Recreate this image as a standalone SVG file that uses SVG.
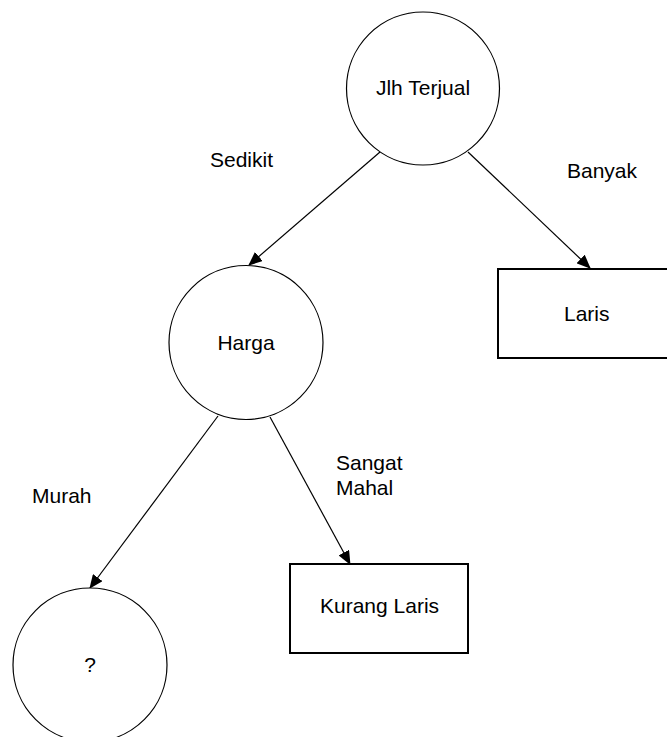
<svg xmlns="http://www.w3.org/2000/svg" width="667" height="737" viewBox="0 0 667 737">
<style>
.c{fill:#fff;stroke:#000;stroke-width:1.2}
.r{fill:#fff;stroke:#000;stroke-width:2}
.t{font-family:"Liberation Sans",Arial,sans-serif;font-size:21px;fill:#000}
.m{text-anchor:middle}
.e{stroke:#000;stroke-width:1.2;fill:none;marker-end:url(#ah)}
</style>
<defs>
<marker id="ah" markerWidth="14" markerHeight="12" refX="13" refY="6" orient="auto" markerUnits="userSpaceOnUse">
<path d="M0,0 L14,6 L0,12 Z" fill="#000"/>
</marker>
</defs>
<rect width="667" height="737" fill="#fff"/>
<g id="connectors">
<line class="e" x1="380" y1="152" x2="249" y2="265"/>
<line class="e" x1="468" y1="152" x2="590" y2="268"/>
<line class="e" x1="218" y1="416" x2="90" y2="588"/>
<line class="e" x1="270" y1="417" x2="350" y2="564"/>
</g>
<g id="n-jlh">
<circle class="c" cx="423" cy="88.5" r="76.5"/>
<text class="t m" x="423" y="95">Jlh Terjual</text>
</g>
<g id="n-harga">
<circle class="c" cx="246" cy="342.5" r="77"/>
<text class="t m" x="246" y="350">Harga</text>
</g>
<g id="n-laris">
<rect class="r" x="498" y="269" width="178" height="89"/>
<text class="t" x="564" y="321">Laris</text>
</g>
<g id="n-kurang">
<rect class="r" x="290" y="564" width="178" height="89"/>
<text class="t" x="320" y="613">Kurang Laris</text>
</g>
<g id="n-q">
<circle class="c" cx="90" cy="665" r="77"/>
<text class="t m" x="90" y="672">?</text>
</g>
<g id="labels">
<text class="t" x="210" y="167">Sedikit</text>
<text class="t" x="567" y="178">Banyak</text>
<text class="t" x="32" y="503">Murah</text>
<text class="t" x="336" y="470">Sangat</text>
<text class="t" x="336" y="495">Mahal</text>
</g>
</svg>
